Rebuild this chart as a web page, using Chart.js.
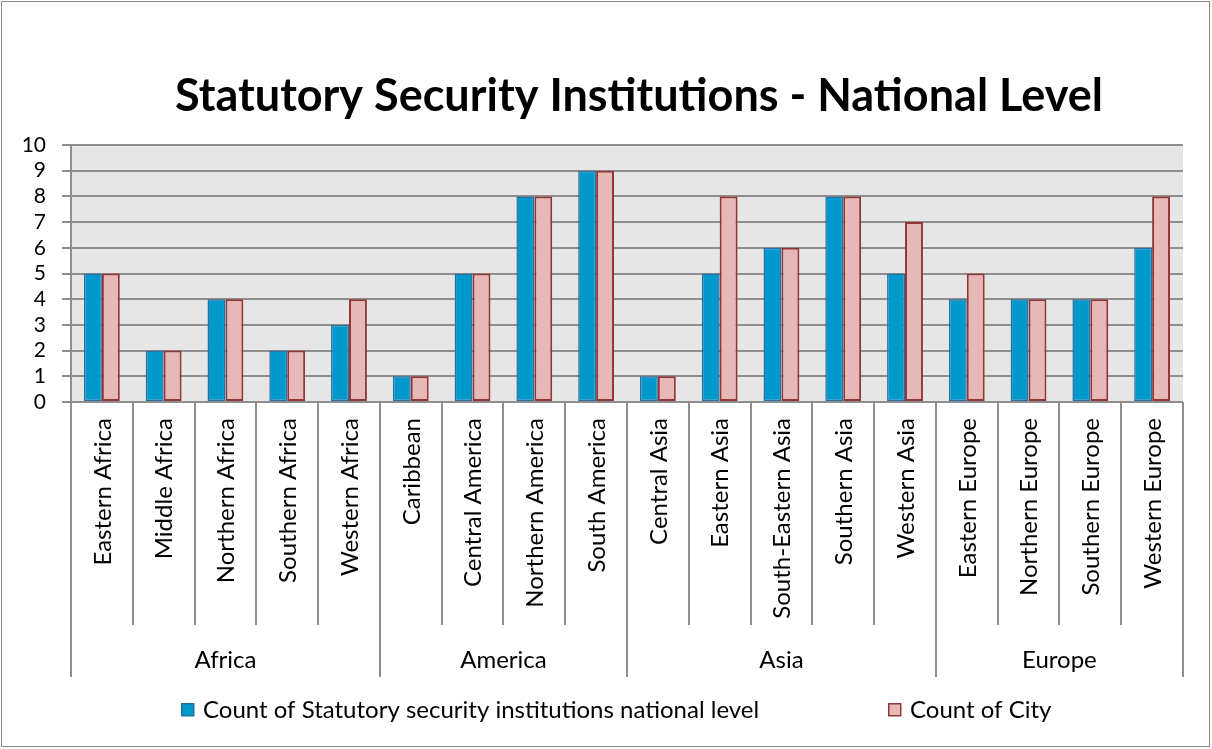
<!DOCTYPE html>
<html><head><meta charset="utf-8">
<script src="https://cdn.jsdelivr.net/npm/chart.js@4/dist/chart.umd.min.js"></script>
<style>html,body{margin:0;padding:0;background:#fff}#wrap{width:1212px;height:749px}</style>
</head><body><div id="wrap"><canvas id="c" width="1212" height="749"></canvas></div>
<script>
const chartTitle = 'Statutory Security Institutions - National Level';
const categories = ['Eastern Africa','Middle Africa','Northern Africa','Southern Africa','Western Africa',
  'Caribbean','Central America','Northern America','South America',
  'Central Asia','Eastern Asia','South-Eastern Asia','Southern Asia','Western Asia',
  'Eastern Europe','Northern Europe','Southern Europe','Western Europe'];
const groupNames = ['Africa','America','Asia','Europe'];
const groupSizes = [5,4,5,4];
const seriesNames = ['Count of Statutory security institutions national level','Count of City'];
const statutoryCounts = [5,2,4,2,3, 1,5,8,9, 1,5,6,8,5, 4,4,4,6];
const cityCounts      = [5,2,4,2,4, 1,5,8,9, 1,8,6,8,7, 5,4,4,8];
const yMin = 0, yMax = 10, yStep = 1;

const FONT = 'Lato, "Open Sans", sans-serif';
const GRID = '#8e8e8e';

const overlay = {
  id: 'overlay',
  beforeDraw(chart) {
    const {ctx, chartArea: a} = chart;
    ctx.save();
    ctx.fillStyle = '#e6e6e6';
    ctx.fillRect(a.left, a.top, a.right - a.left, a.bottom - a.top);
    ctx.restore();
  },
  afterDraw(chart) {
    const {ctx, chartArea: a} = chart;
    const n = categories.length;
    const w = (a.right - a.left) / n;
    ctx.save();
    ctx.strokeStyle = GRID; ctx.lineWidth = 2;
    const groupEdges = new Set([0]);
    let acc = 0; groupSizes.forEach(s => { acc += s; groupEdges.add(acc); });
    for (let i = 0; i <= n; i++) {
      const x = Math.round(a.left + i * w);
      ctx.beginPath();
      ctx.moveTo(x, a.bottom);
      ctx.lineTo(x, groupEdges.has(i) ? 677 : 625);
      ctx.stroke();
    }
    ctx.fillStyle = '#000';
    ctx.font = '24px ' + FONT;
    ctx.textAlign = 'right'; ctx.textBaseline = 'middle';
    const xs = chart.scales.x;
    categories.forEach((c, i) => {
      const x = xs.getPixelForValue(i);
      ctx.save();
      ctx.translate(x + 1, a.bottom + 16);
      ctx.rotate(-Math.PI / 2);
      ctx.fillText(c, 0, 0);
      ctx.restore();
    });
    ctx.textAlign = 'center';
    let start = 0;
    groupNames.forEach((g, gi) => {
      const end = start + groupSizes[gi];
      const x = a.left + (start + end) / 2 * w;
      ctx.fillText(g, x, 660);
      start = end;
    });
    const items = [
      {x: 181, fill: '#0099cc', stroke: '#2a6fa3'},
      {x: 888, fill: '#e6b9b8', stroke: '#943634'}
    ];
    ctx.textAlign = 'left';
    items.forEach((it, i) => {
      ctx.fillStyle = it.fill; ctx.strokeStyle = it.stroke; ctx.lineWidth = 1.5;
      ctx.fillRect(it.x, 703, 13, 13);
      ctx.strokeRect(it.x + 0.75, 703.75, 12, 12);
      ctx.fillStyle = '#000';
      ctx.fillText(seriesNames[i], it.x + 22, 710);
    });
    ctx.font = 'bold 45px ' + FONT;
    ctx.textAlign = 'center';
    ctx.fillText(chartTitle, 639, 96);
    ctx.strokeStyle = '#8a8a8a'; ctx.lineWidth = 1;
    ctx.strokeRect(1.5, 1.5, 1208, 745);
    ctx.restore();
  }
};

new Chart(document.getElementById('c'), {
  type: 'bar',
  data: {
    labels: categories,
    datasets: [
      {label: seriesNames[0], data: statutoryCounts, backgroundColor: '#0099cc', borderColor: '#2a6fa3', borderWidth: 1.5, borderSkipped: false},
      {label: seriesNames[1], data: cityCounts, backgroundColor: '#e6b9b8', borderColor: '#943634', borderWidth: 2, borderSkipped: false}
    ]
  },
  options: {
    responsive: false,
    animation: false,
    devicePixelRatio: 1,
    layout: {padding: {left: 0, right: 29, top: 145, bottom: 347}},
    datasets: {bar: {categoryPercentage: 0.58, barPercentage: 1}},
    plugins: {legend: {display: false}, title: {display: false}, tooltip: {enabled: false}},
    scales: {
      x: {display: false},
      y: {
        min: yMin, max: yMax,
        afterFit(s) { s.width = 71; },
        ticks: {stepSize: yStep, autoSkip: false, color: '#000', font: {family: FONT, size: 21}, padding: 16},
        grid: {color: GRID, lineWidth: 2, tickLength: 9},
        border: {display: true, color: GRID, width: 2}
      }
    }
  },
  plugins: [overlay]
});
</script></body></html>
